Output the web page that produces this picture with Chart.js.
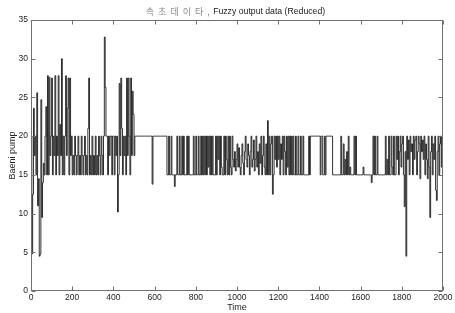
<!DOCTYPE html>
<html><head><meta charset="utf-8">
<script src="https://cdn.jsdelivr.net/npm/chart.js@4/dist/chart.umd.min.js"></script>
<style>html,body{margin:0;padding:0;background:#fff}#wrap{width:455px;height:313px;position:relative}</style>
</head><body><div id="wrap"><canvas id="c" width="455" height="313"></canvas></div>
<script>
const titleKo = '속초데이타,';
const titleEn = 'Fuzzy output data (Reduced)';
const xTitle = 'Time';
const yTitle = 'Baeni pump';
const xTicks = [0, 200, 400, 600, 800, 1000, 1200, 1400, 1600, 1800, 2000];
const yTicks = [0, 5, 10, 15, 20, 25, 30, 35];
const sampleStep = 4; // time units between samples
const pump = [
  20,4.8,12.5,23.6,17.5,20,15,25.6,11,14.5,4.5,4.8,24.7,9.5,14,16.5,15,20,23.8,15,
  27.8,15,27.6,17.5,20,27.5,15,20,17.5,27.8,15,20,17.5,27.8,15,21.5,17.5,30,15,20,
  15,20,27.8,17.5,23.6,27.5,15,27.5,17.5,20,15,17.5,15,20,17.5,15,17.5,20,15,17.5,
  15,20,17.5,15,17.5,20,15,17.5,15,21,27.5,15,17.5,15,20,15,17.5,15,20,15,
  17.5,15,20,17.5,15,20,17.5,15,20,32.8,26.3,20,20,15,20,17.5,20,20,15,20,
  20,15,20,17.5,20,10.2,15,26.8,17.5,27.5,21,15,20,17.5,20,15,27.5,17.5,27.5,20,
  15,27.5,17.5,25.8,22.8,17.5,20,20,20,20,20,20,20,20,20,20,20,20,20,20,
  20,20,20,20,20,20,20,13.8,20,20,20,20,20,20,20,20,20,20,20,20,
  20,20,20,20,20,15,15,20,15,15,20,15,15,15,13.5,15,15,20,15,15,
  20,15,15,20,15,20,15,15,15,20,15,20,15,15,15,15,15,20,15,15,
  20,15,15,20,15,15,20,15,20,15,20,15,20,15,20,16,20,15,20,15,
  20,15,15,15,20,15,20,17,20,15,20,16,15,15,20,15,20,17,15,20,
  15,20,16,15,20,17,16,18,15.5,17,19,16,18.5,16,15,17.5,19,16.5,15,18,
  20,17,16,19,17.5,15,18,20,16,17,19.5,15.5,17,20,16,18,15,19,16.5,20,
  15,17.5,20,16,15,19,15,22,15,20,15,19,20,12.5,15,20,17,20,16,20,
  17,20,15,19,17,20,15,20,18,15,20,16,20,15,20,15,20,15,20,15,
  15,20,15,15,20,15,15,20,15,15,20,15,15,15,15,15,15,20,15,20,
  20,20,20,20,20,20,20,20,20,20,20,15,20,20,15,15,20,15,20,20,
  20,20,20,20,20,20,15,15,15,15,15,15,15,15,15,15,20,15,15,19,
  15,17,15,18,15,20,15,16,15,15,15,15,20,15,20,15,15,15,15,15,
  15,15,15,16,15,15,15,15,15,15,15,15,15,14,15,20,15,20,15,15,
  20,15,15,15,15,15,15,15,15,15,20,15,17,15,20,15,15,20,16,15,
  20,15,15,20,17,20,15,18,20,16,19,20,15,10.9,18,4.5,20,17,19.5,15,
  20,18,19,15,20,17,19.5,20,15,18,20,19,14.5,20,18,19.5,17,20,15,19,
  17,14.5,20,16,9.5,18,20,15,19,17,20,13,11.7,18,20,15,19,20,16,20,
  17
];

const points = pump.map((v, i) => ({ x: i * sampleStep, y: v }));

const frame = {
  id: 'frame',
  afterDatasetsDraw(chart) {
    const { ctx, chartArea: a, scales: { x, y } } = chart;
    ctx.save();
    ctx.strokeStyle = '#707070';
    ctx.lineWidth = 1;
    const L = Math.round(a.left) + 0.5, R = Math.round(a.right) - 0.5;
    const T = Math.round(a.top) + 0.5, B = Math.round(a.bottom) - 0.5;
    ctx.strokeRect(L, T, R - L, B - T);
    ctx.beginPath();
    const tl = 4;
    xTicks.forEach(v => {
      const px = Math.round(x.getPixelForValue(v)) + 0.5;
      ctx.moveTo(px, B); ctx.lineTo(px, B - tl);
      ctx.moveTo(px, T); ctx.lineTo(px, T + tl);
    });
    yTicks.forEach(v => {
      const py = Math.round(y.getPixelForValue(v)) + 0.5;
      ctx.moveTo(L, py); ctx.lineTo(L + tl, py);
      ctx.moveTo(R, py); ctx.lineTo(R - tl, py);
    });
    ctx.stroke();
    // title
    const cx = (a.left + a.right) / 2;
    ctx.textBaseline = 'middle';
    const hasLS = 'letterSpacing' in ctx;
    ctx.font = '9px "Noto Sans CJK KR"';
    if (hasLS) ctx.letterSpacing = '4px';
    const wKo = ctx.measureText(titleKo).width;
    ctx.font = '8.7px "Liberation Sans", Arial, sans-serif';
    if (hasLS) ctx.letterSpacing = '0px';
    const wEn = ctx.measureText(' ' + titleEn).width;
    let sx = cx - (wKo + wEn) / 2;
    ctx.textAlign = 'left';
    ctx.fillStyle = '#8a8a8a';
    ctx.font = '9px "Noto Sans CJK KR"';
    if (hasLS) ctx.letterSpacing = '4px';
    ctx.fillText(titleKo, sx, 12);
    if (hasLS) ctx.letterSpacing = '0px';
    ctx.fillStyle = '#1a1a1a';
    ctx.font = '8.7px "Liberation Sans", Arial, sans-serif';
    ctx.fillText(' ' + titleEn, sx + wKo - 3, 12);
    ctx.restore();
  }
};

const fmt = v => String(v);

new Chart(document.getElementById('c'), {
  type: 'line',
  data: {
    datasets: [{
      data: points,
      borderColor: 'rgba(15,15,15,0.85)',
      borderWidth: 1,
      pointRadius: 0,
      stepped: true,
      fill: false
    }]
  },
  options: {
    responsive: false,
    animation: false,
    parsing: false,
    layout: { padding: { top: 20, right: 12, left: 0, bottom: 0 } },
    plugins: { legend: { display: false }, tooltip: { enabled: false }, title: { display: false } },
    scales: {
      x: {
        type: 'linear', min: 0, max: 2000,
        afterBuildTicks: s => { s.ticks = xTicks.map(v => ({ value: v })); },
        afterFit: s => { s.height = 22; },
        grid: { display: false, drawTicks: false },
        border: { display: false },
        ticks: { color: '#222', callback: fmt, font: { family: '"Liberation Sans", Arial, sans-serif', size: 8.5 }, padding: 2, maxRotation: 0, autoSkip: false },
        title: { display: true, text: xTitle, color: '#222', font: { family: '"Liberation Sans", Arial, sans-serif', size: 9 }, padding: { top: 0, bottom: 0 } }
      },
      y: {
        type: 'linear', min: 0, max: 35,
        afterBuildTicks: s => { s.ticks = yTicks.map(v => ({ value: v })); },
        afterFit: s => { s.width = 31; },
        grid: { display: false, drawTicks: false },
        border: { display: false },
        ticks: { color: '#222', callback: fmt, font: { family: '"Liberation Sans", Arial, sans-serif', size: 8.5 }, padding: 3 },
        title: { display: true, text: yTitle, color: '#222', font: { family: '"Liberation Sans", Arial, sans-serif', size: 9 }, padding: { top: 7, bottom: 0 } }
      }
    }
  },
  plugins: [frame]
});
</script>
</body></html>
